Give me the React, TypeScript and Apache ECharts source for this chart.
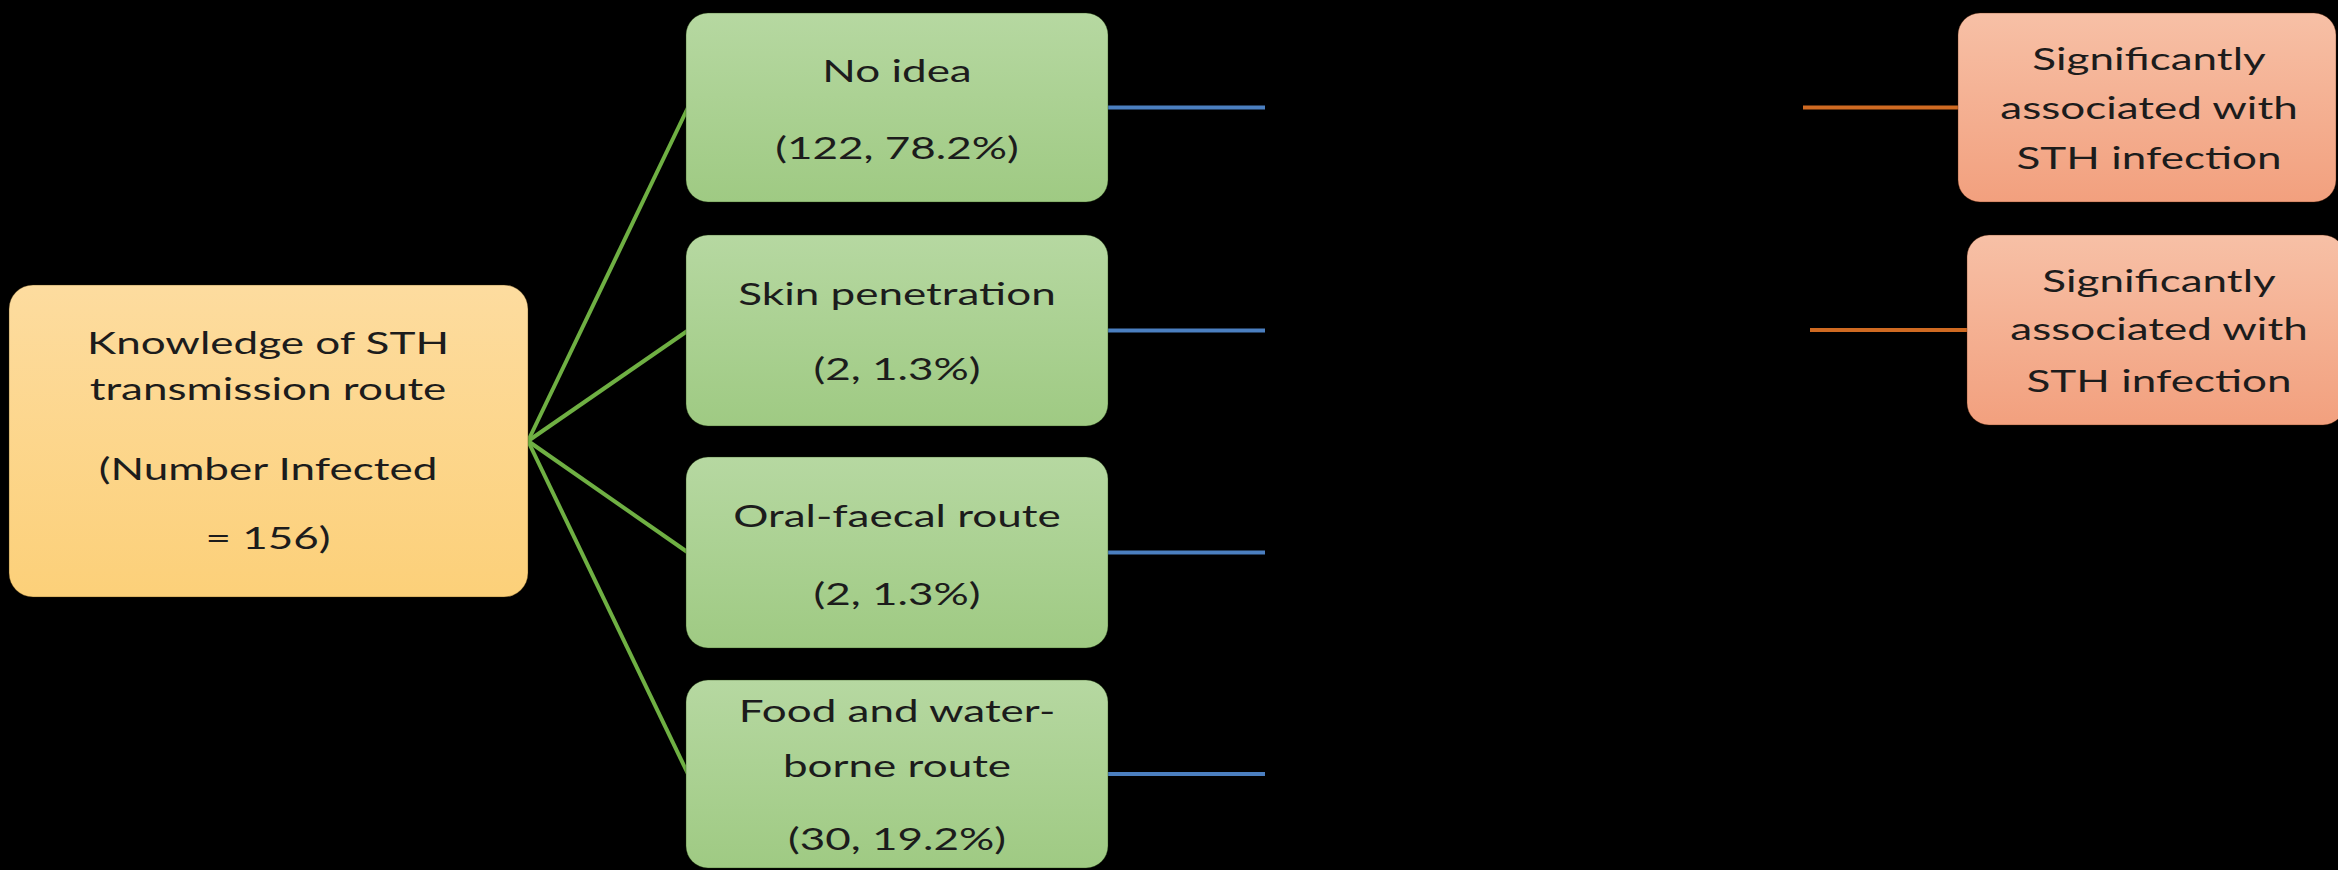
import React, { useEffect, useRef } from "react";
import * as echarts from "echarts";

// ---- data ----
const rootLines = ["Knowledge of STH", "transmission route", "(Number Infected", "= 156)"];
const routeNameLines = [["No idea"], ["Skin penetration"], ["Oral-faecal route"], ["Food and water-", "borne route"]];
const routeCounts = [122, 2, 2, 30];
const routePercents = [78.2, 1.3, 1.3, 19.2];
const outcomeLines = [
  ["Significantly", "associated with", "STH infection"],
  ["Significantly", "associated with", "STH infection"],
];

// ---- layout ----
const W = 2338;
const H = 870;
const SX = 1.42; // horizontal stretch of the source frame
const FONT = "Lato";
const FS = 31;
const TEXT = "#1c1c1c";

const rootBox = { x: 9, y: 285, w: 519, h: 312 };
const rootTextX = 268;
const rootTextY = [342, 388, 468, 537];

const routeBoxX = 686;
const routeBoxW = 422;
const routeBoxTop = [13, 235, 457, 680];
const routeBoxH = [189, 191, 191, 188];
const routeTextX = 897;
const routeTextOffsets = [[57, 134], [58, 133], [58, 136], [30, 85, 158]];
const blueEndX = 1265;

const outBoxes = [
  { x: 1958, y: 13, w: 378, h: 189, tx: 2149, lineStart: 1803, ty: [58, 107, 157] },
  { x: 1967, y: 235, w: 378, h: 190, tx: 2159, lineStart: 1810, ty: [280, 328, 380] },
];

function grad(top: string, bottom: string) {
  return new echarts.graphic.LinearGradient(0, 0, 0, 1, [
    { offset: 0, color: top },
    { offset: 1, color: bottom },
  ]);
}

function textBlock(cx: number, lines: string[], ys: number[]) {
  return {
    type: "group",
    x: cx,
    y: 0,
    scaleX: SX,
    z: 10,
    children: lines.map((t, i) => ({
      type: "text",
      z: 10,
      x: 0,
      y: ys[i],
      style: {
        text: t,
        fill: TEXT,
        fontFamily: FONT,
        fontSize: FS,
        textAlign: "center",
        textVerticalAlign: "middle",
        verticalAlign: "middle",
      },
    })),
  };
}

function buildOption() {
  const elements: any[] = [];
  const rootMidY = rootBox.y + rootBox.h / 2;
  const rootRight = rootBox.x + rootBox.w;

  // connectors
  routeNameLines.forEach((_, i) => {
    const cy = routeBoxTop[i] + routeBoxH[i] / 2;
    elements.push({
      type: "line",
      z: 1,
      shape: { x1: rootRight, y1: rootMidY, x2: routeBoxX + 2, y2: cy },
      style: { stroke: "#6fb043", lineWidth: 4 },
    });
    elements.push({
      type: "line",
      z: 1,
      shape: { x1: routeBoxX + routeBoxW - 2, y1: cy, x2: blueEndX, y2: cy },
      style: { stroke: "#4b7fc0", lineWidth: 4 },
    });
  });
  outBoxes.forEach((b) => {
    const cy = b.y + b.h / 2;
    elements.push({
      type: "line",
      z: 1,
      shape: { x1: b.lineStart, y1: cy, x2: b.x + 2, y2: cy },
      style: { stroke: "#cf6a22", lineWidth: 4 },
    });
  });

  // root box
  elements.push({
    type: "rect",
    z: 5,
    shape: { x: rootBox.x, y: rootBox.y, width: rootBox.w, height: rootBox.h, r: 24 },
    style: { fill: grad("#fddc9f", "#fcd079"), stroke: "rgba(60,40,0,0.35)", lineWidth: 1 },
  });
  elements.push(textBlock(rootTextX, rootLines, rootTextY));

  // route boxes
  routeNameLines.forEach((nameLines, i) => {
    const top = routeBoxTop[i];
    elements.push({
      type: "rect",
      z: 5,
      shape: { x: routeBoxX, y: top, width: routeBoxW, height: routeBoxH[i], r: 22 },
      style: { fill: grad("#b6d8a1", "#9fca83"), stroke: "rgba(30,60,10,0.35)", lineWidth: 1 },
    });
    const lines = [...nameLines, `(${routeCounts[i]}, ${routePercents[i].toFixed(1)}%)`];
    elements.push(textBlock(routeTextX, lines, routeTextOffsets[i].map((o) => top + o)));
  });

  // outcome boxes
  outBoxes.forEach((b, i) => {
    elements.push({
      type: "rect",
      z: 5,
      shape: { x: b.x, y: b.y, width: b.w, height: b.h, r: 22 },
      style: { fill: grad("#f7c0a6", "#f2a07e"), stroke: "rgba(80,30,0,0.35)", lineWidth: 1 },
    });
    elements.push(textBlock(b.tx, outcomeLines[i], b.ty));
  });

  return {
    animation: false,
    backgroundColor: "#000000",
    graphic: { elements },
  };
}

export default function App() {
  const ref = useRef<HTMLDivElement>(null);
  useEffect(() => {
    if (!ref.current) return;
    const chart = echarts.init(ref.current, undefined, { renderer: "svg" });
    chart.setOption(buildOption() as any);
    return () => chart.dispose();
  }, []);
  return (
    <div
      ref={ref}
      style={{ position: "fixed", left: 0, top: 0, width: W, height: H, background: "#000" }}
    />
  );
}
